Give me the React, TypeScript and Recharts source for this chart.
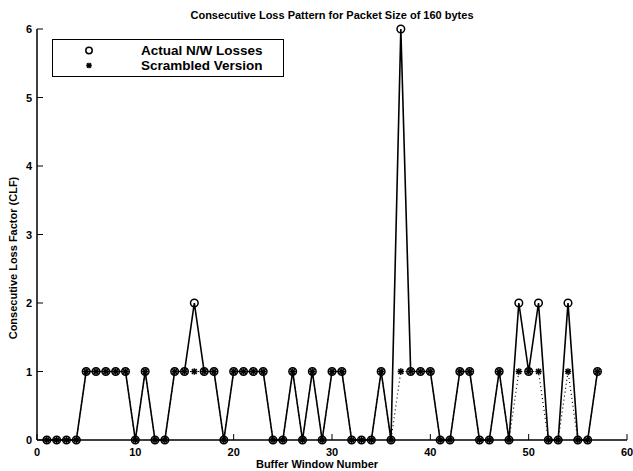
import React from "react";
import { LineChart, Line, XAxis, YAxis, Legend } from "recharts";

// buffer window index
const windows = [
  1, 2, 3, 4, 5, 6, 7, 8, 9, 10, 11, 12, 13, 14, 15, 16, 17, 18, 19, 20,
  21, 22, 23, 24, 25, 26, 27, 28, 29, 30, 31, 32, 33, 34, 35, 36, 37, 38, 39, 40,
  41, 42, 43, 44, 45, 46, 47, 48, 49, 50, 51, 52, 53, 54, 55, 56, 57,
];
const actualLosses = [
  0, 0, 0, 0, 1, 1, 1, 1, 1, 0, 1, 0, 0, 1, 1, 2, 1, 1, 0, 1,
  1, 1, 1, 0, 0, 1, 0, 1, 0, 1, 1, 0, 0, 0, 1, 0, 6, 1, 1, 1,
  0, 0, 1, 1, 0, 0, 1, 0, 2, 1, 2, 0, 0, 2, 0, 0, 1,
];
const scrambledLosses = [
  0, 0, 0, 0, 1, 1, 1, 1, 1, 0, 1, 0, 0, 1, 1, 1, 1, 1, 0, 1,
  1, 1, 1, 0, 0, 1, 0, 1, 0, 1, 1, 0, 0, 0, 1, 0, 1, 1, 1, 1,
  0, 0, 1, 1, 0, 0, 1, 0, 1, 1, 1, 0, 0, 1, 0, 0, 1,
];
const xTicks = [0, 10, 20, 30, 40, 50, 60];
const yTicks = [0, 1, 2, 3, 4, 5, 6];

const FONT = "'Liberation Sans', Arial, Helvetica, sans-serif";
const TICK = 6;

const data = windows.map((w, i) => ({
  w,
  actual: actualLosses[i],
  scrambled: scrambledLosses[i],
}));

const Star = ({ cx, cy, s = 3.2 }: { cx: number; cy: number; s?: number }) => (
  <g stroke="#000" strokeWidth={1.5}>
    <line x1={cx - s} y1={cy} x2={cx + s} y2={cy} />
    <line x1={cx} y1={cy - s} x2={cx} y2={cy + s} />
    <line x1={cx - s * 0.75} y1={cy - s * 0.75} x2={cx + s * 0.75} y2={cy + s * 0.75} />
    <line x1={cx - s * 0.75} y1={cy + s * 0.75} x2={cx + s * 0.75} y2={cy - s * 0.75} />
  </g>
);

const BottomTick = (p: any) => (
  <g>
    <line x1={p.x} y1={p.y} x2={p.x} y2={p.y - TICK} stroke="#000" strokeWidth={1} />
    <text x={p.x} y={p.y + 16} textAnchor="middle" fontFamily={FONT} fontWeight="bold" fontSize={11} fill="#000">
      {p.payload.value}
    </text>
  </g>
);

const TopTick = (p: any) => (
  <line x1={p.x} y1={p.y} x2={p.x} y2={p.y + TICK} stroke="#000" strokeWidth={1} />
);

const LeftTick = (p: any) => (
  <g>
    <line x1={p.x} y1={p.y} x2={p.x + TICK} y2={p.y} stroke="#000" strokeWidth={1} />
    <text x={p.x - 5} y={p.y + 4} textAnchor="end" fontFamily={FONT} fontWeight="bold" fontSize={11} fill="#000">
      {p.payload.value}
    </text>
  </g>
);

const RightTick = (p: any) => (
  <line x1={p.x} y1={p.y} x2={p.x - TICK} y2={p.y} stroke="#000" strokeWidth={1} />
);

const LegendBox = (props: any) => (
  <div
    style={{
      border: "1.5px solid #000",
      width: 232,
      height: 38,
      boxSizing: "border-box",
      background: "#fff",
      paddingTop: 3,
    }}
  >
    {(props.payload || []).map((entry: any) => (
      <div key={entry.value} style={{ display: "flex", alignItems: "center", height: 15 }}>
        <svg width={88} height={15}>
          {entry.dataKey === "actual" ? (
            <circle cx={36} cy={7.5} r={3.2} fill="none" stroke="#000" strokeWidth={1.5} />
          ) : (
            <Star cx={36} cy={7.5} s={2.8} />
          )}
        </svg>
        <span style={{ fontFamily: FONT, fontWeight: "bold", fontSize: 13.5, lineHeight: "15px", color: "#000" }}>
          {entry.value}
        </span>
      </div>
    ))}
  </div>
);

export default function App() {
  return (
    <div style={{ position: "absolute", left: 0, top: 0, width: 633, height: 471, background: "#fff" }}>
      <div
        style={{
          position: "absolute",
          left: 37,
          width: 590,
          top: 9,
          textAlign: "center",
          fontFamily: FONT,
          fontWeight: "bold",
          fontSize: 11,
          lineHeight: "12px",
        }}
      >
        Consecutive Loss Pattern for Packet Size of 160 bytes
      </div>
      <div
        style={{
          position: "absolute",
          left: 217,
          width: 200,
          top: 458,
          textAlign: "center",
          fontFamily: FONT,
          fontWeight: "bold",
          fontSize: 11,
          lineHeight: "12px",
        }}
      >
        Buffer Window Number
      </div>
      <div
        style={{
          position: "absolute",
          left: 13 - 100,
          top: 258 - 6,
          width: 200,
          height: 12,
          transform: "rotate(-90deg)",
          textAlign: "center",
          fontFamily: FONT,
          fontWeight: "bold",
          fontSize: 11,
          lineHeight: "12px",
        }}
      >
        Consecutive Loss Factor (CLF)
      </div>
      <LineChart width={633} height={471} data={data} margin={{ top: 29, right: 6, bottom: 0, left: 0 }}>
        <XAxis
          dataKey="w"
          type="number"
          domain={[0, 60]}
          ticks={xTicks}
          height={31}
          tickSize={0}
          tickMargin={0}
          tick={BottomTick}
          axisLine={{ stroke: "#000", strokeWidth: 1.5 }}
          interval={0}
        />
        <XAxis
          xAxisId="top"
          orientation="top"
          type="number"
          domain={[0, 60]}
          ticks={xTicks}
          height={0}
          tickSize={0}
          tickMargin={0}
          tick={TopTick}
          axisLine={{ stroke: "#000", strokeWidth: 1.5 }}
          interval={0}
        />
        <YAxis
          type="number"
          domain={[0, 6]}
          ticks={yTicks}
          width={37}
          tickSize={0}
          tickMargin={0}
          tick={LeftTick}
          axisLine={{ stroke: "#000", strokeWidth: 1.5 }}
          interval={0}
        />
        <YAxis
          yAxisId="right"
          orientation="right"
          type="number"
          domain={[0, 6]}
          ticks={yTicks}
          width={0}
          tickSize={0}
          tickMargin={0}
          tick={RightTick}
          axisLine={{ stroke: "#000", strokeWidth: 1.5 }}
          interval={0}
        />
        <Line
          dataKey="scrambled"
          name="Scrambled Version"
          stroke="#000"
          strokeWidth={1.2}
          strokeDasharray="1 3"
          isAnimationActive={false}
          dot={(p: any) => <Star key={`s-${p.index}`} cx={p.cx} cy={p.cy} />}
          activeDot={false}
        />
        <Line
          dataKey="actual"
          name="Actual N/W Losses"
          stroke="#000"
          strokeWidth={1.6}
          isAnimationActive={false}
          dot={(p: any) => (
            <circle key={`a-${p.index}`} cx={p.cx} cy={p.cy} r={3.8} fill="none" stroke="#000" strokeWidth={1.5} />
          )}
          activeDot={false}
        />
        <Legend
          layout="horizontal"
          verticalAlign="middle"
          align="center"
          content={LegendBox}
          wrapperStyle={{ left: 52, top: 39, width: 232, height: 38 }}
        />
      </LineChart>
    </div>
  );
}
